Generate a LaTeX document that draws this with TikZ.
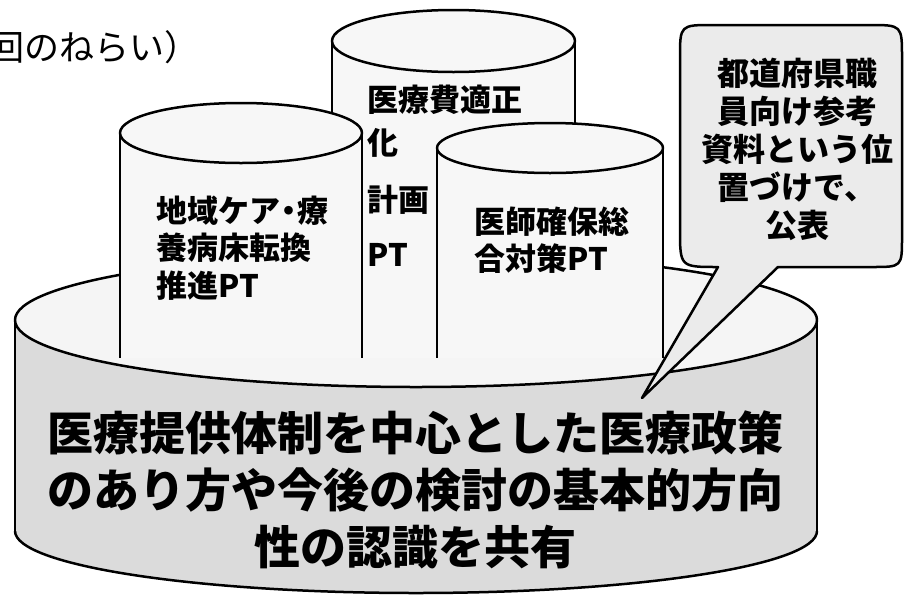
\documentclass[tikz,border=0pt]{standalone}
\usepackage{fontspec}
\newfontfamily\jp{Noto Sans CJK JP}
\begin{document}
\begin{tikzpicture}[x=0.5pt,y=-0.5pt,line width=1.25pt,line join=round,
  bodyfill/.style={fill=black!14},
  topfill/.style={fill=black!4,draw=black},
  cylfill/.style={fill=black!3},
  callfill/.style={fill=black!8,draw=black},
  smalltxt/.style={inner sep=0pt,font=\jp\bfseries\fontsize{15.5pt}{18.75pt}\selectfont},
  calltxt/.style={inner sep=0pt,align=center,font=\jp\bfseries\fontsize{16pt}{19pt}\selectfont},
  maintxt/.style={inner sep=0pt,align=center,font=\jp\bfseries\fontsize{23pt}{28.5pt}\selectfont}]
\useasboundingbox (0,0) rectangle (904,595);
\clip (0,0) rectangle (904,595);
\fill[white] (0,0) rectangle (904,595);
% big cylinder
\fill[bodyfill] (15,320) rectangle (817,531);
\fill[bodyfill] (416,531) ellipse [x radius=401, y radius=62];
\begin{scope}
  \clip (0,531) rectangle (904,600);
  \draw (416,531) ellipse [x radius=401, y radius=62];
\end{scope}
\draw (15,320) -- (15,531);
\draw (817,320) -- (817,531);
\path[topfill] (416,320) ellipse [x radius=401, y radius=67];
% middle (back) cylinder
\fill[cylfill] (332,41) rectangle (575,358);
\draw (332,41) -- (332,358);
\draw (575,41) -- (575,358);
\path[cylfill,draw=black] (453.5,41) ellipse [x radius=121.5, y radius=31];
% left cylinder
\fill[cylfill] (120,133) rectangle (362,358);
\draw (120,133) -- (120,358);
\draw (362,133) -- (362,358);
\path[cylfill,draw=black] (241,133) ellipse [x radius=121, y radius=30];
% right cylinder
\fill[cylfill] (437,148) rectangle (663,358);
\draw (437,148) -- (437,358);
\draw (663,148) -- (663,358);
\path[cylfill,draw=black] (550,148) ellipse [x radius=113, y radius=25];
% callout
\coordinate (tip) at (642,398);
\path[callfill] (718,267) -- (tip) -- (778,267) -- (872,267)
  .. controls (902,267) .. (902,237) -- (902,58)
  .. controls (902,25) .. (869,25) -- (713,25)
  .. controls (680,25) .. (680,58) -- (680,229)
  .. controls (680,267) .. (718,267) -- cycle;
% texts
\node[anchor=west,inner sep=0pt,font=\jp\fontsize{17.5pt}{17.5pt}\selectfont] (title) at (-12,47) {回のねらい）};
\node[smalltxt,anchor=west,align=left] (leftcyl) at (155,248) {地域ケア\kern-0.22em・\kern-0.22em療\\養病床転換\\推進PT};
\node[smalltxt,anchor=west,align=left] (rightcyl) at (473,240) {医師確保総\\合対策PT};
\node[smalltxt,anchor=west] (mid1) at (366,100) {医療費適正};
\node[smalltxt,anchor=west] (mid2) at (366,143) {化};
\node[smalltxt,anchor=west] (mid3) at (366,200) {計画};
\node[smalltxt,anchor=west] (mid4) at (366,255) {PT};
\node[calltxt] (calltext) at (797,149) {都道府県職\\員向け参考\\資料という位\\置づけで、\\公表};
\node[maintxt] (main) at (415,490) {医療提供体制を中心とした医療政策\\のあり方や今後の検討の基本的方向\\性の認識を共有};
\end{tikzpicture}
\end{document}
